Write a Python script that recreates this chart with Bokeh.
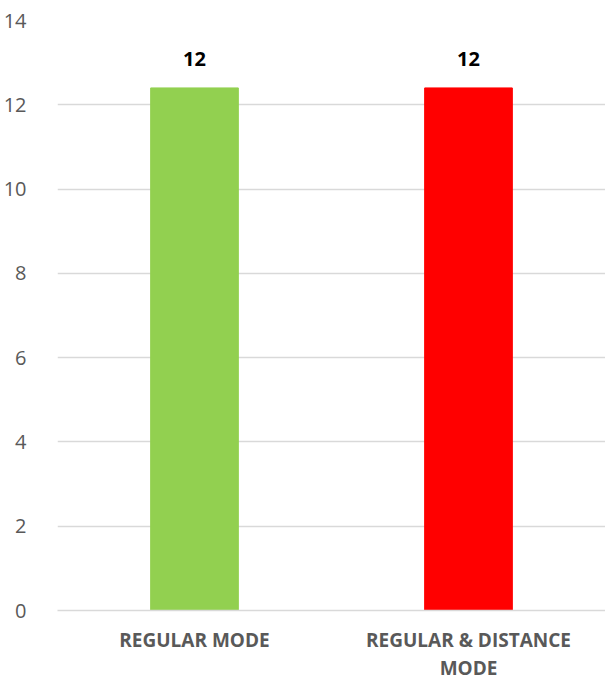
from bokeh.plotting import figure
from bokeh.models import ColumnDataSource, LabelSet, FixedTicker, Range1d, FactorRange
from bokeh.core.properties import value
from bokeh.embed import file_html
from bokeh.resources import INLINE

categories = ["REGULAR MODE", "REGULAR & DISTANCE\nMODE"]
values = [12.4, 12.4]
labels = ["12", "12"]
colors = ["#92d050", "#ff0000"]
y_ticks = [0, 2, 4, 6, 8, 10, 12, 14]

src = ColumnDataSource(dict(cat=categories, val=values, lab=labels, col=colors))

p = figure(x_range=FactorRange(*categories, range_padding=0), y_range=Range1d(0, 14),
           width=605, height=684, output_backend="svg", toolbar_location=None,
           min_border_left=57, min_border_right=0, min_border_top=20, min_border_bottom=72)
p.outline_line_color = None
p.vbar(x="cat", top="val", width=0.32, color="col", source=src)

p.add_layout(LabelSet(x="cat", y="val", text="lab", source=src, text_align="center",
                      text_baseline="middle", y_offset=29, text_font=value("Open Sans"),
                      text_font_style="bold", text_font_size="20px", text_color="black"))

p.yaxis.ticker = FixedTicker(ticks=y_ticks)
p.yaxis.axis_line_color = None
p.yaxis.major_tick_line_color = None
p.yaxis.minor_tick_line_color = None
p.yaxis.major_label_text_font = "Open Sans"
p.yaxis.major_label_text_font_size = "20px"
p.yaxis.major_label_text_color = "#595959"
p.yaxis.major_label_standoff = 25

p.xaxis.axis_line_color = "#d9d9d9"
p.xaxis.axis_line_width = 1.5
p.xaxis.major_tick_line_color = None
p.xaxis.minor_tick_line_color = None
p.xaxis.major_label_text_font = "Open Sans"
p.xaxis.major_label_text_font_style = "bold"
p.xaxis.major_label_text_font_size = "19px"
p.xaxis.major_label_text_line_height = 1.1
p.xaxis.major_label_text_color = "#595959"
p.xaxis.major_label_standoff = 10

p.xgrid.grid_line_color = None
p.ygrid.grid_line_color = "#d9d9d9"
p.ygrid.grid_line_width = 1.5

open("out.html", "w").write(file_html(p, INLINE))
